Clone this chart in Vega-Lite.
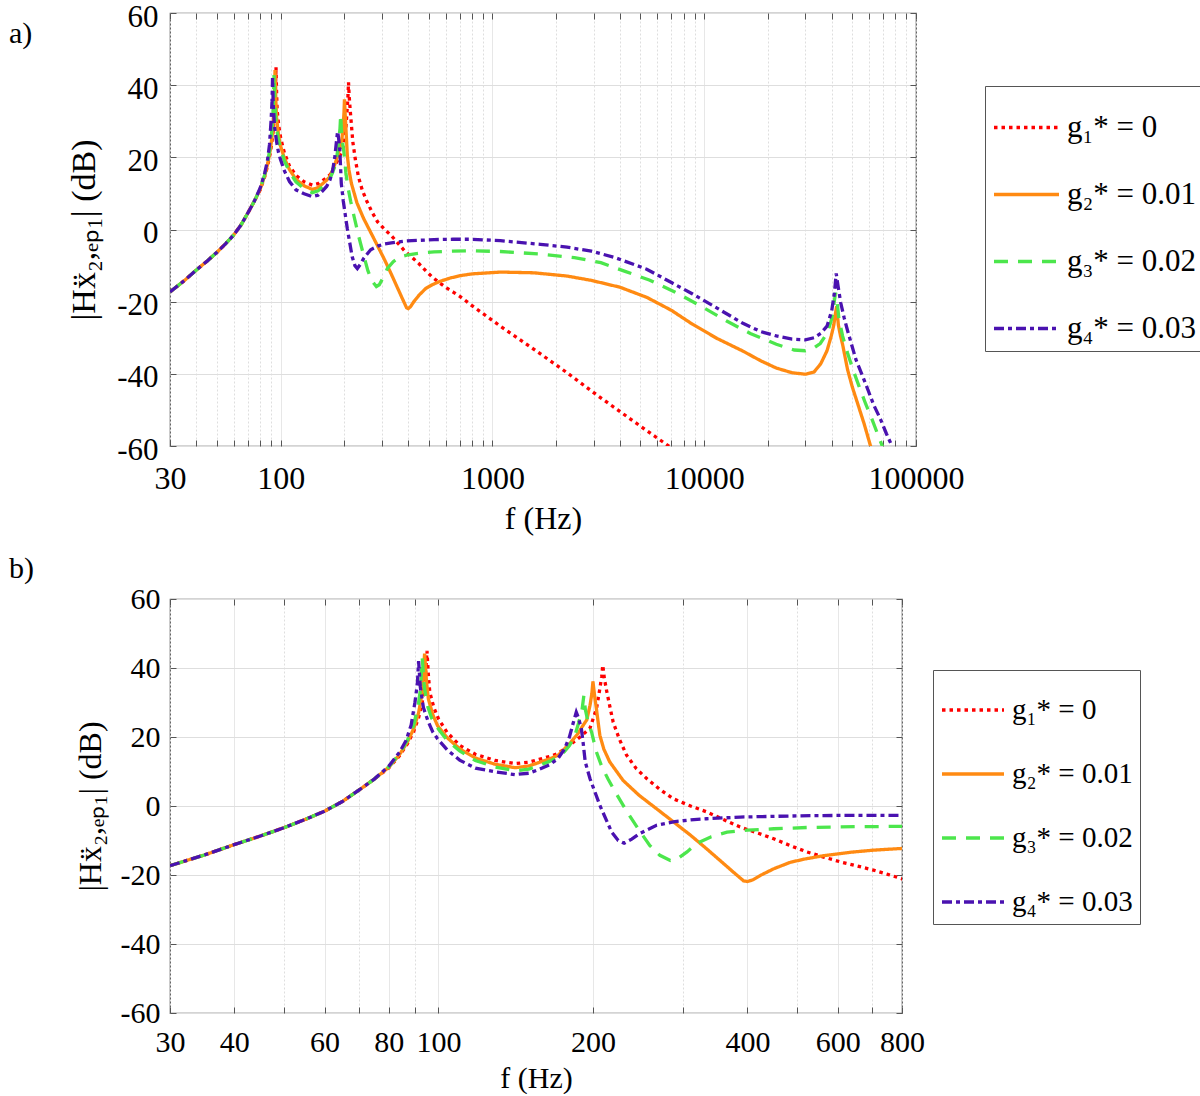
{
  "$schema": "https://vega.github.io/schema/vega-lite/v6.json",
  "padding": {"left": 8, "top": 0, "right": 0, "bottom": 0},
  "spacing": 18,
  "columns": 1,
  "align": "none",
  "config": {
    "font": "Liberation Serif",
    "view": {"stroke": "#555", "strokeWidth": 1.2},
    "axis": {
      "labelFont": "Liberation Serif", "titleFont": "Liberation Serif",
      "labelColor": "#000", "titleColor": "#000", "titleFontWeight": "normal",
      "domain": false, "tickColor": "#555", "gridColor": "#dedede", "gridWidth": 1
    },
    "line": {"strokeWidth": 3.3, "strokeCap": "butt", "clip": true}
  },
  "datasets": {
    "frf": [
      {"g":"g₁* = 0","f":30,"db":-17.3},{"g":"g₁* = 0","f":35,"db":-14.2},{"g":"g₁* = 0","f":40,"db":-11.2},{"g":"g₁* = 0","f":45,"db":-8.7},{"g":"g₁* = 0","f":50,"db":-6.3},{"g":"g₁* = 0","f":55,"db":-3.9},{"g":"g₁* = 0","f":60,"db":-1.5},{"g":"g₁* = 0","f":65,"db":1.3},{"g":"g₁* = 0","f":70,"db":4.6},{"g":"g₁* = 0","f":75,"db":7.8},
      {"g":"g₁* = 0","f":80,"db":11.0},{"g":"g₁* = 0","f":84,"db":14.6},{"g":"g₁* = 0","f":87,"db":18.0},{"g":"g₁* = 0","f":89.5,"db":21.6},{"g":"g₁* = 0","f":91.5,"db":25.6},{"g":"g₁* = 0","f":93,"db":30.0},{"g":"g₁* = 0","f":94.2,"db":36.0},{"g":"g₁* = 0","f":95,"db":45.0},{"g":"g₁* = 0","f":95.6,"db":38.0},{"g":"g₁* = 0","f":96.2,"db":33.0},
      {"g":"g₁* = 0","f":98,"db":28.5},{"g":"g₁* = 0","f":100,"db":25.3},{"g":"g₁* = 0","f":104,"db":21.3},{"g":"g₁* = 0","f":110,"db":17.6},{"g":"g₁* = 0","f":118,"db":15.0},{"g":"g₁* = 0","f":129,"db":13.2},{"g":"g₁* = 0","f":141,"db":12.3},{"g":"g₁* = 0","f":150,"db":12.7},{"g":"g₁* = 0","f":157,"db":13.5},{"g":"g₁* = 0","f":165,"db":14.4},
      {"g":"g₁* = 0","f":171,"db":15.2},{"g":"g₁* = 0","f":180,"db":17.6},{"g":"g₁* = 0","f":190,"db":20.3},{"g":"g₁* = 0","f":197.4,"db":22.6},{"g":"g₁* = 0","f":203.2,"db":28.2},{"g":"g₁* = 0","f":206.3,"db":34.0},{"g":"g₁* = 0","f":208,"db":37.5},{"g":"g₁* = 0","f":209,"db":40.8},{"g":"g₁* = 0","f":210.5,"db":37.0},{"g":"g₁* = 0","f":212.6,"db":33.5},
      {"g":"g₁* = 0","f":216,"db":28.5},{"g":"g₁* = 0","f":219,"db":24.3},{"g":"g₁* = 0","f":225,"db":19.5},{"g":"g₁* = 0","f":232.6,"db":14.7},{"g":"g₁* = 0","f":243,"db":10.8},{"g":"g₁* = 0","f":254.8,"db":7.9},{"g":"g₁* = 0","f":270,"db":4.8},{"g":"g₁* = 0","f":286.8,"db":2.1},{"g":"g₁* = 0","f":310,"db":0.0},{"g":"g₁* = 0","f":333,"db":-1.7},
      {"g":"g₁* = 0","f":360,"db":-4.0},{"g":"g₁* = 0","f":387,"db":-6.1},{"g":"g₁* = 0","f":420,"db":-7.9},{"g":"g₁* = 0","f":450,"db":-9.5},{"g":"g₁* = 0","f":485,"db":-11.5},{"g":"g₁* = 0","f":522,"db":-13.3},{"g":"g₁* = 0","f":563,"db":-14.8},{"g":"g₁* = 0","f":607,"db":-16.2},{"g":"g₁* = 0","f":655,"db":-17.4},{"g":"g₁* = 0","f":704,"db":-18.6},
      {"g":"g₁* = 0","f":750,"db":-19.8},{"g":"g₁* = 0","f":800,"db":-21.1},{"g":"g₁* = 0","f":1090,"db":-26.8},{"g":"g₁* = 0","f":1570,"db":-33.2},{"g":"g₁* = 0","f":2250,"db":-39.7},{"g":"g₁* = 0","f":3150,"db":-46.1},{"g":"g₁* = 0","f":4500,"db":-52.6},{"g":"g₁* = 0","f":6000,"db":-57.8},{"g":"g₁* = 0","f":7040,"db":-60.6},{"g":"g₁* = 0","f":8000,"db":-63.0},

      {"g":"g₂* = 0.01","f":30,"db":-17.3},{"g":"g₂* = 0.01","f":35,"db":-14.2},{"g":"g₂* = 0.01","f":40,"db":-11.2},{"g":"g₂* = 0.01","f":45,"db":-8.7},{"g":"g₂* = 0.01","f":50,"db":-6.3},{"g":"g₂* = 0.01","f":55,"db":-3.9},{"g":"g₂* = 0.01","f":60,"db":-1.5},{"g":"g₂* = 0.01","f":65,"db":1.3},{"g":"g₂* = 0.01","f":70,"db":4.6},{"g":"g₂* = 0.01","f":75,"db":7.8},
      {"g":"g₂* = 0.01","f":80,"db":11.2},{"g":"g₂* = 0.01","f":84,"db":14.9},{"g":"g₂* = 0.01","f":87,"db":18.5},{"g":"g₂* = 0.01","f":89.5,"db":22.4},{"g":"g₂* = 0.01","f":91.5,"db":27.0},{"g":"g₂* = 0.01","f":93,"db":33.0},{"g":"g₂* = 0.01","f":94,"db":44.2},{"g":"g₂* = 0.01","f":94.8,"db":36.0},{"g":"g₂* = 0.01","f":95.6,"db":31.0},{"g":"g₂* = 0.01","f":97.5,"db":26.5},
      {"g":"g₂* = 0.01","f":99.6,"db":23.3},{"g":"g₂* = 0.01","f":104,"db":19.8},{"g":"g₂* = 0.01","f":110,"db":16.6},{"g":"g₂* = 0.01","f":118,"db":13.9},{"g":"g₂* = 0.01","f":129,"db":12.1},{"g":"g₂* = 0.01","f":141,"db":11.1},{"g":"g₂* = 0.01","f":150,"db":11.6},{"g":"g₂* = 0.01","f":157,"db":12.6},{"g":"g₂* = 0.01","f":165,"db":13.7},{"g":"g₂* = 0.01","f":171,"db":14.7},
      {"g":"g₂* = 0.01","f":180,"db":18.0},{"g":"g₂* = 0.01","f":187,"db":21.0},{"g":"g₂* = 0.01","f":191,"db":23.2},{"g":"g₂* = 0.01","f":194.6,"db":25.0},{"g":"g₂* = 0.01","f":197.4,"db":29.2},{"g":"g₂* = 0.01","f":199,"db":32.5},{"g":"g₂* = 0.01","f":200,"db":36.1},{"g":"g₂* = 0.01","f":201.5,"db":32.0},{"g":"g₂* = 0.01","f":203.2,"db":28.0},{"g":"g₂* = 0.01","f":206.3,"db":20.5},
      {"g":"g₂* = 0.01","f":210,"db":16.5},{"g":"g₂* = 0.01","f":215.6,"db":12.8},{"g":"g₂* = 0.01","f":229,"db":7.4},{"g":"g₂* = 0.01","f":246,"db":3.1},{"g":"g₂* = 0.01","f":265,"db":-0.6},{"g":"g₂* = 0.01","f":287,"db":-4.6},{"g":"g₂* = 0.01","f":310,"db":-8.5},{"g":"g₂* = 0.01","f":333,"db":-12.4},{"g":"g₂* = 0.01","f":355,"db":-16.0},{"g":"g₂* = 0.01","f":375,"db":-19.1},
      {"g":"g₂* = 0.01","f":393,"db":-21.7},{"g":"g₂* = 0.01","f":400,"db":-21.9},{"g":"g₂* = 0.01","f":410,"db":-21.4},{"g":"g₂* = 0.01","f":424,"db":-20.1},{"g":"g₂* = 0.01","f":450,"db":-18.2},{"g":"g₂* = 0.01","f":485,"db":-16.3},{"g":"g₂* = 0.01","f":520,"db":-15.3},{"g":"g₂* = 0.01","f":563,"db":-14.4},{"g":"g₂* = 0.01","f":636,"db":-13.4},{"g":"g₂* = 0.01","f":704,"db":-12.8},
      {"g":"g₂* = 0.01","f":800,"db":-12.3},{"g":"g₂* = 0.01","f":1090,"db":-11.8},{"g":"g₂* = 0.01","f":1570,"db":-12.0},{"g":"g₂* = 0.01","f":2250,"db":-12.9},{"g":"g₂* = 0.01","f":2930,"db":-14.1},{"g":"g₂* = 0.01","f":4000,"db":-16.0},{"g":"g₂* = 0.01","f":5350,"db":-18.8},{"g":"g₂* = 0.01","f":7000,"db":-22.4},{"g":"g₂* = 0.01","f":8770,"db":-26.2},{"g":"g₂* = 0.01","f":11500,"db":-30.2},
      {"g":"g₂* = 0.01","f":15230,"db":-33.7},{"g":"g₂* = 0.01","f":18500,"db":-36.4},{"g":"g₂* = 0.01","f":21900,"db":-38.4},{"g":"g₂* = 0.01","f":26000,"db":-39.7},{"g":"g₂* = 0.01","f":30000,"db":-40.1},{"g":"g₂* = 0.01","f":33000,"db":-39.5},{"g":"g₂* = 0.01","f":35500,"db":-37.2},{"g":"g₂* = 0.01","f":38000,"db":-33.6},{"g":"g₂* = 0.01","f":39800,"db":-29.5},{"g":"g₂* = 0.01","f":40900,"db":-26.5},
      {"g":"g₂* = 0.01","f":41600,"db":-23.5},{"g":"g₂* = 0.01","f":42200,"db":-21.3},{"g":"g₂* = 0.01","f":43000,"db":-26.5},{"g":"g₂* = 0.01","f":44000,"db":-29.5},{"g":"g₂* = 0.01","f":45000,"db":-31.8},{"g":"g₂* = 0.01","f":47500,"db":-38.8},{"g":"g₂* = 0.01","f":50000,"db":-43.6},{"g":"g₂* = 0.01","f":53000,"db":-48.2},{"g":"g₂* = 0.01","f":57000,"db":-54.0},{"g":"g₂* = 0.01","f":61000,"db":-60.0},
      {"g":"g₂* = 0.01","f":64000,"db":-64.0},

      {"g":"g₃* = 0.02","f":30,"db":-17.3},{"g":"g₃* = 0.02","f":35,"db":-14.2},{"g":"g₃* = 0.02","f":40,"db":-11.2},{"g":"g₃* = 0.02","f":45,"db":-8.7},{"g":"g₃* = 0.02","f":50,"db":-6.3},{"g":"g₃* = 0.02","f":55,"db":-3.9},{"g":"g₃* = 0.02","f":60,"db":-1.5},{"g":"g₃* = 0.02","f":65,"db":1.3},{"g":"g₃* = 0.02","f":70,"db":4.6},{"g":"g₃* = 0.02","f":75,"db":7.8},
      {"g":"g₃* = 0.02","f":80,"db":11.3},{"g":"g₃* = 0.02","f":84,"db":15.2},{"g":"g₃* = 0.02","f":87,"db":19.0},{"g":"g₃* = 0.02","f":89.5,"db":23.5},{"g":"g₃* = 0.02","f":91.3,"db":29.0},{"g":"g₃* = 0.02","f":92.3,"db":34.0},{"g":"g₃* = 0.02","f":93,"db":43.0},{"g":"g₃* = 0.02","f":93.8,"db":35.0},{"g":"g₃* = 0.02","f":95,"db":29.5},{"g":"g₃* = 0.02","f":97,"db":25.5},
      {"g":"g₃* = 0.02","f":100,"db":22.3},{"g":"g₃* = 0.02","f":104,"db":19.0},{"g":"g₃* = 0.02","f":110,"db":16.0},{"g":"g₃* = 0.02","f":118,"db":13.2},{"g":"g₃* = 0.02","f":129,"db":11.3},{"g":"g₃* = 0.02","f":141,"db":10.2},{"g":"g₃* = 0.02","f":150,"db":10.7},{"g":"g₃* = 0.02","f":157,"db":11.7},{"g":"g₃* = 0.02","f":165,"db":13.0},{"g":"g₃* = 0.02","f":171,"db":14.2},
      {"g":"g₃* = 0.02","f":176,"db":15.8},{"g":"g₃* = 0.02","f":180,"db":17.5},{"g":"g₃* = 0.02","f":184,"db":20.0},{"g":"g₃* = 0.02","f":187.5,"db":24.0},{"g":"g₃* = 0.02","f":190.5,"db":28.0},{"g":"g₃* = 0.02","f":192,"db":32.0},{"g":"g₃* = 0.02","f":193.3,"db":28.0},{"g":"g₃* = 0.02","f":195.5,"db":24.5},{"g":"g₃* = 0.02","f":198.8,"db":21.4},{"g":"g₃* = 0.02","f":203,"db":15.8},
      {"g":"g₃* = 0.02","f":208,"db":11.5},{"g":"g₃* = 0.02","f":214,"db":7.8},{"g":"g₃* = 0.02","f":222,"db":3.6},{"g":"g₃* = 0.02","f":233,"db":-1.7},{"g":"g₃* = 0.02","f":245,"db":-6.6},{"g":"g₃* = 0.02","f":258,"db":-11.4},{"g":"g₃* = 0.02","f":270,"db":-14.3},{"g":"g₃* = 0.02","f":283,"db":-15.8},{"g":"g₃* = 0.02","f":292,"db":-15.3},{"g":"g₃* = 0.02","f":305,"db":-13.3},
      {"g":"g₃* = 0.02","f":319,"db":-10.8},{"g":"g₃* = 0.02","f":340,"db":-8.9},{"g":"g₃* = 0.02","f":365,"db":-7.6},{"g":"g₃* = 0.02","f":400,"db":-7.0},{"g":"g₃* = 0.02","f":450,"db":-6.6},{"g":"g₃* = 0.02","f":530,"db":-6.2},{"g":"g₃* = 0.02","f":650,"db":-6.0},{"g":"g₃* = 0.02","f":800,"db":-5.9},{"g":"g₃* = 0.02","f":1090,"db":-6.1},{"g":"g₃* = 0.02","f":1683,"db":-6.8},
      {"g":"g₃* = 0.02","f":2438,"db":-7.8},{"g":"g₃* = 0.02","f":3250,"db":-9.2},{"g":"g₃* = 0.02","f":4230,"db":-11.6},{"g":"g₃* = 0.02","f":5500,"db":-14.0},{"g":"g₃* = 0.02","f":7300,"db":-17.4},{"g":"g₃* = 0.02","f":9500,"db":-21.0},{"g":"g₃* = 0.02","f":12700,"db":-25.3},{"g":"g₃* = 0.02","f":16500,"db":-28.8},{"g":"g₃* = 0.02","f":21900,"db":-31.8},{"g":"g₃* = 0.02","f":26600,"db":-33.4},
      {"g":"g₃* = 0.02","f":30000,"db":-33.6},{"g":"g₃* = 0.02","f":33000,"db":-32.8},{"g":"g₃* = 0.02","f":35300,"db":-31.6},{"g":"g₃* = 0.02","f":38200,"db":-28.6},{"g":"g₃* = 0.02","f":40100,"db":-24.5},{"g":"g₃* = 0.02","f":41000,"db":-20.5},{"g":"g₃* = 0.02","f":41700,"db":-17.5},{"g":"g₃* = 0.02","f":42500,"db":-20.5},{"g":"g₃* = 0.02","f":43200,"db":-24.5},{"g":"g₃* = 0.02","f":45000,"db":-29.5},
      {"g":"g₃* = 0.02","f":47500,"db":-34.2},{"g":"g₃* = 0.02","f":50500,"db":-39.0},{"g":"g₃* = 0.02","f":53800,"db":-43.4},{"g":"g₃* = 0.02","f":58000,"db":-48.5},{"g":"g₃* = 0.02","f":62000,"db":-52.6},{"g":"g₃* = 0.02","f":66000,"db":-56.8},{"g":"g₃* = 0.02","f":69300,"db":-60.0},{"g":"g₃* = 0.02","f":72000,"db":-63.0},

      {"g":"g₄* = 0.03","f":30,"db":-17.3},{"g":"g₄* = 0.03","f":35,"db":-14.2},{"g":"g₄* = 0.03","f":40,"db":-11.2},{"g":"g₄* = 0.03","f":45,"db":-8.7},{"g":"g₄* = 0.03","f":50,"db":-6.3},{"g":"g₄* = 0.03","f":55,"db":-3.9},{"g":"g₄* = 0.03","f":60,"db":-1.5},{"g":"g₄* = 0.03","f":65,"db":1.3},{"g":"g₄* = 0.03","f":70,"db":4.6},{"g":"g₄* = 0.03","f":75,"db":7.8},
      {"g":"g₄* = 0.03","f":80,"db":11.5},{"g":"g₄* = 0.03","f":84,"db":15.6},{"g":"g₄* = 0.03","f":86.5,"db":19.0},{"g":"g₄* = 0.03","f":88.5,"db":23.5},{"g":"g₄* = 0.03","f":90,"db":30.0},{"g":"g₄* = 0.03","f":91,"db":35.5},{"g":"g₄* = 0.03","f":91.5,"db":42.0},{"g":"g₄* = 0.03","f":92.2,"db":34.5},{"g":"g₄* = 0.03","f":93.5,"db":28.5},{"g":"g₄* = 0.03","f":95.5,"db":24.5},
      {"g":"g₄* = 0.03","f":97.5,"db":21.5},{"g":"g₄* = 0.03","f":99.6,"db":19.5},{"g":"g₄* = 0.03","f":104,"db":16.3},{"g":"g₄* = 0.03","f":110,"db":13.3},{"g":"g₄* = 0.03","f":118,"db":11.0},{"g":"g₄* = 0.03","f":129,"db":9.9},{"g":"g₄* = 0.03","f":141,"db":9.1},{"g":"g₄* = 0.03","f":150,"db":9.5},{"g":"g₄* = 0.03","f":157,"db":10.6},{"g":"g₄* = 0.03","f":165,"db":12.0},
      {"g":"g₄* = 0.03","f":171,"db":13.8},{"g":"g₄* = 0.03","f":176,"db":16.5},{"g":"g₄* = 0.03","f":180,"db":20.0},{"g":"g₄* = 0.03","f":183,"db":24.0},{"g":"g₄* = 0.03","f":185.6,"db":27.2},{"g":"g₄* = 0.03","f":187.5,"db":25.5},{"g":"g₄* = 0.03","f":189.9,"db":22.4},{"g":"g₄* = 0.03","f":191.5,"db":18.0},{"g":"g₄* = 0.03","f":193.2,"db":12.8},{"g":"g₄* = 0.03","f":197.4,"db":7.9},
      {"g":"g₄* = 0.03","f":206.3,"db":0.2},{"g":"g₄* = 0.03","f":217.4,"db":-7.5},{"g":"g₄* = 0.03","f":224,"db":-10.0},{"g":"g₄* = 0.03","f":230,"db":-10.8},{"g":"g₄* = 0.03","f":238,"db":-9.6},{"g":"g₄* = 0.03","f":246.4,"db":-8.0},{"g":"g₄* = 0.03","f":256,"db":-6.8},{"g":"g₄* = 0.03","f":266,"db":-5.6},{"g":"g₄* = 0.03","f":286.8,"db":-4.6},{"g":"g₄* = 0.03","f":310,"db":-4.0},
      {"g":"g₄* = 0.03","f":333,"db":-3.7},{"g":"g₄* = 0.03","f":387,"db":-3.2},{"g":"g₄* = 0.03","f":450,"db":-3.0},{"g":"g₄* = 0.03","f":530,"db":-2.8},{"g":"g₄* = 0.03","f":650,"db":-2.7},{"g":"g₄* = 0.03","f":800,"db":-2.7},{"g":"g₄* = 0.03","f":1090,"db":-3.1},{"g":"g₄* = 0.03","f":1683,"db":-4.1},{"g":"g₄* = 0.03","f":2250,"db":-4.9},{"g":"g₄* = 0.03","f":2930,"db":-6.0},
      {"g":"g₄* = 0.03","f":3800,"db":-7.8},{"g":"g₄* = 0.03","f":5350,"db":-11.0},{"g":"g₄* = 0.03","f":7000,"db":-14.7},{"g":"g₄* = 0.03","f":8770,"db":-17.8},{"g":"g₄* = 0.03","f":11500,"db":-21.8},{"g":"g₄* = 0.03","f":15230,"db":-26.0},{"g":"g₄* = 0.03","f":18500,"db":-28.3},{"g":"g₄* = 0.03","f":21900,"db":-29.5},{"g":"g₄* = 0.03","f":26000,"db":-30.4},{"g":"g₄* = 0.03","f":30000,"db":-30.6},
      {"g":"g₄* = 0.03","f":33000,"db":-30.0},{"g":"g₄* = 0.03","f":35500,"db":-28.8},{"g":"g₄* = 0.03","f":38000,"db":-26.8},{"g":"g₄* = 0.03","f":40000,"db":-22.5},{"g":"g₄* = 0.03","f":41200,"db":-17.5},{"g":"g₄* = 0.03","f":42000,"db":-12.2},{"g":"g₄* = 0.03","f":42800,"db":-15.5},{"g":"g₄* = 0.03","f":44100,"db":-20.3},{"g":"g₄* = 0.03","f":45800,"db":-24.5},{"g":"g₄* = 0.03","f":47500,"db":-28.0},
      {"g":"g₄* = 0.03","f":52000,"db":-36.0},{"g":"g₄* = 0.03","f":58400,"db":-43.4},{"g":"g₄* = 0.03","f":63000,"db":-48.5},{"g":"g₄* = 0.03","f":68000,"db":-52.6},{"g":"g₄* = 0.03","f":72500,"db":-56.6},{"g":"g₄* = 0.03","f":77000,"db":-60.0},{"g":"g₄* = 0.03","f":80000,"db":-63.0}
    ]
  },
  "concat": [
    {
      "title": {"text": "a)", "anchor": "start", "frame": "group", "offset": -48, "dx": -161, "fontSize": 30, "fontWeight": "normal", "font": "Liberation Serif", "color": "#000"},
      "width": 746,
      "height": 433,
      "layer": [
        {
          "data": {"name": "frf"},
          "mark": {"type": "line", "clip": true},
          "encoding": {
            "x": {
              "field": "f", "type": "quantitative",
              "scale": {"type": "log", "domain": [30, 100000], "nice": false},
              "axis": {
                "title": "f (Hz)", "titleFontSize": 32, "titlePadding": 9,
                "values": [30,40,50,60,70,80,90,100,200,300,400,500,600,700,800,900,1000,2000,3000,4000,5000,6000,7000,8000,9000,10000,20000,30000,40000,50000,60000,70000,80000,90000,100000],
                "format": "d",
                "labelExpr": "indexof([30,100,1000,10000,100000], datum.value) >= 0 ? datum.label : ''",
                "labelFontSize": 32, "labelPadding": 23, "labelFlush": false, "labelOverlap": false,
                "tickSize": -6,
                "gridDash": {"condition": {"test": "indexof([100,1000,10000], datum.value) >= 0", "value": [1, 0]}, "value": [2, 2]}
              }
            },
            "y": {
              "field": "db", "type": "quantitative",
              "scale": {"domain": [-60, 60], "nice": false},
              "axis": {
                "title": "|Hẍ₂,ₑₚ₁| (dB)", "titleFontSize": 34, "titlePadding": 15,
                "values": [-60,-40,-20,0,20,40,60],
                "labelExpr": "replace(datum.label, '−', '-')",
                "labelFontSize": 31, "labelPadding": 18, "labelOffset": 4, "labelFlush": false, "tickSize": -6
              }
            },
            "color": {
              "field": "g", "type": "nominal",
              "scale": {"domain": ["g₁* = 0","g₂* = 0.01","g₃* = 0.02","g₄* = 0.03"], "range": ["#ff0000","#ff8a12","#4ce64c","#4a12b0"]},
              "legend": {"orient": "none", "legendX": 815, "legendY": 73, "title": null, "strokeColor": "#555", "fillColor": "#fff", "padding": 7, "symbolType": "stroke", "symbolSize": 4225, "symbolStrokeWidth": 3.3, "labelFont": "Liberation Serif", "labelFontSize": 31, "labelColor": "#000", "rowPadding": 17, "labelOffset": 6, "labelLimit": 400}
            },
            "strokeDash": {
              "field": "g", "type": "nominal",
              "scale": {"domain": ["g₁* = 0","g₂* = 0.01","g₃* = 0.02","g₄* = 0.03"], "range": [[3.5, 4], [1, 0], [14, 10], [10, 4, 4, 4]]},
              "legend": {"orient": "none", "legendX": 815, "legendY": 73, "title": null, "strokeColor": "#555", "fillColor": "#fff", "padding": 7, "symbolType": "stroke", "symbolSize": 4225, "symbolStrokeWidth": 3.3, "labelFont": "Liberation Serif", "labelFontSize": 31, "labelColor": "#000", "rowPadding": 17, "labelOffset": 6, "labelLimit": 400}
            }
          }
        },
        {
          "data": {"values": [{"f": 30, "db": 0}]},
          "mark": {"type": "point", "opacity": 0},
          "encoding": {
            "x": {
              "field": "f", "type": "quantitative",
              "axis": {
                "orient": "top", "title": null, "labels": false, "grid": false,
                "values": [30,40,50,60,70,80,90,100,200,300,400,500,600,700,800,900,1000,2000,3000,4000,5000,6000,7000,8000,9000,10000,20000,30000,40000,50000,60000,70000,80000,90000,100000],
                "tickSize": -6
              }
            },
            "y": {
              "field": "db", "type": "quantitative",
              "axis": {"orient": "right", "title": null, "labels": false, "grid": false, "values": [-60,-40,-20,0,20,40,60], "tickSize": -6}
            }
          }
        }
      ],
      "resolve": {"axis": {"x": "independent", "y": "independent"}}
    },
    {
      "title": {"text": "b)", "anchor": "start", "frame": "group", "offset": 0, "dx": -161, "fontSize": 30, "fontWeight": "normal", "font": "Liberation Serif", "color": "#000"},
      "width": 732,
      "height": 414,
      "layer": [
        {
          "data": {"name": "frf"},
          "mark": {"type": "line", "clip": true},
          "encoding": {
            "x": {
              "field": "f", "type": "quantitative",
              "scale": {"type": "log", "domain": [30, 800], "nice": false},
              "axis": {
                "title": "f (Hz)", "titleFontSize": 30, "titlePadding": 6,
                "values": [30,40,50,60,70,80,90,100,200,300,400,500,600,700,800],
                "format": "d",
                "labelExpr": "indexof([30,40,60,80,100,200,400,600,800], datum.value) >= 0 ? datum.label : ''",
                "labelFontSize": 30, "labelPadding": 20, "labelFlush": false, "labelOverlap": false,
                "tickSize": -6,
                "gridDash": {"condition": {"test": "indexof([40,60,80,100,200,400,600], datum.value) >= 0", "value": [1, 0]}, "value": [2, 2]}
              }
            },
            "y": {
              "field": "db", "type": "quantitative",
              "scale": {"domain": [-60, 60], "nice": false},
              "axis": {
                "title": "|Hẍ₂,ₑₚ₁| (dB)", "titleFontSize": 32, "titlePadding": 13,
                "values": [-60,-40,-20,0,20,40,60],
                "labelExpr": "replace(datum.label, '−', '-')",
                "labelFontSize": 30, "labelPadding": 16, "labelFlush": false, "tickSize": -6
              }
            },
            "color": {
              "field": "g", "type": "nominal",
              "scale": {"domain": ["g₁* = 0","g₂* = 0.01","g₃* = 0.02","g₄* = 0.03"], "range": ["#ff0000","#ff8a12","#4ce64c","#4a12b0"]},
              "legend": {"orient": "none", "legendX": 763, "legendY": 71, "title": null, "strokeColor": "#555", "fillColor": "#fff", "padding": 7, "symbolType": "stroke", "symbolSize": 3844, "symbolStrokeWidth": 3.3, "labelFont": "Liberation Serif", "labelFontSize": 29, "labelColor": "#000", "rowPadding": 16, "labelOffset": 6, "labelLimit": 400}
            },
            "strokeDash": {
              "field": "g", "type": "nominal",
              "scale": {"domain": ["g₁* = 0","g₂* = 0.01","g₃* = 0.02","g₄* = 0.03"], "range": [[3.5, 4], [1, 0], [14, 10], [10, 4, 4, 4]]},
              "legend": {"orient": "none", "legendX": 763, "legendY": 71, "title": null, "strokeColor": "#555", "fillColor": "#fff", "padding": 7, "symbolType": "stroke", "symbolSize": 3844, "symbolStrokeWidth": 3.3, "labelFont": "Liberation Serif", "labelFontSize": 29, "labelColor": "#000", "rowPadding": 16, "labelOffset": 6, "labelLimit": 400}
            }
          }
        },
        {
          "data": {"values": [{"f": 30, "db": 0}]},
          "mark": {"type": "point", "opacity": 0},
          "encoding": {
            "x": {
              "field": "f", "type": "quantitative",
              "axis": {
                "orient": "top", "title": null, "labels": false, "grid": false,
                "values": [30,40,50,60,70,80,90,100,200,300,400,500,600,700,800],
                "tickSize": -6
              }
            },
            "y": {
              "field": "db", "type": "quantitative",
              "axis": {"orient": "right", "title": null, "labels": false, "grid": false, "values": [-60,-40,-20,0,20,40,60], "tickSize": -6}
            }
          }
        }
      ],
      "resolve": {"axis": {"x": "independent", "y": "independent"}}
    }
  ],
  "resolve": {
    "scale": {"color": "independent", "strokeDash": "independent"},
    "legend": {"color": "independent", "strokeDash": "independent"}
  }
}
